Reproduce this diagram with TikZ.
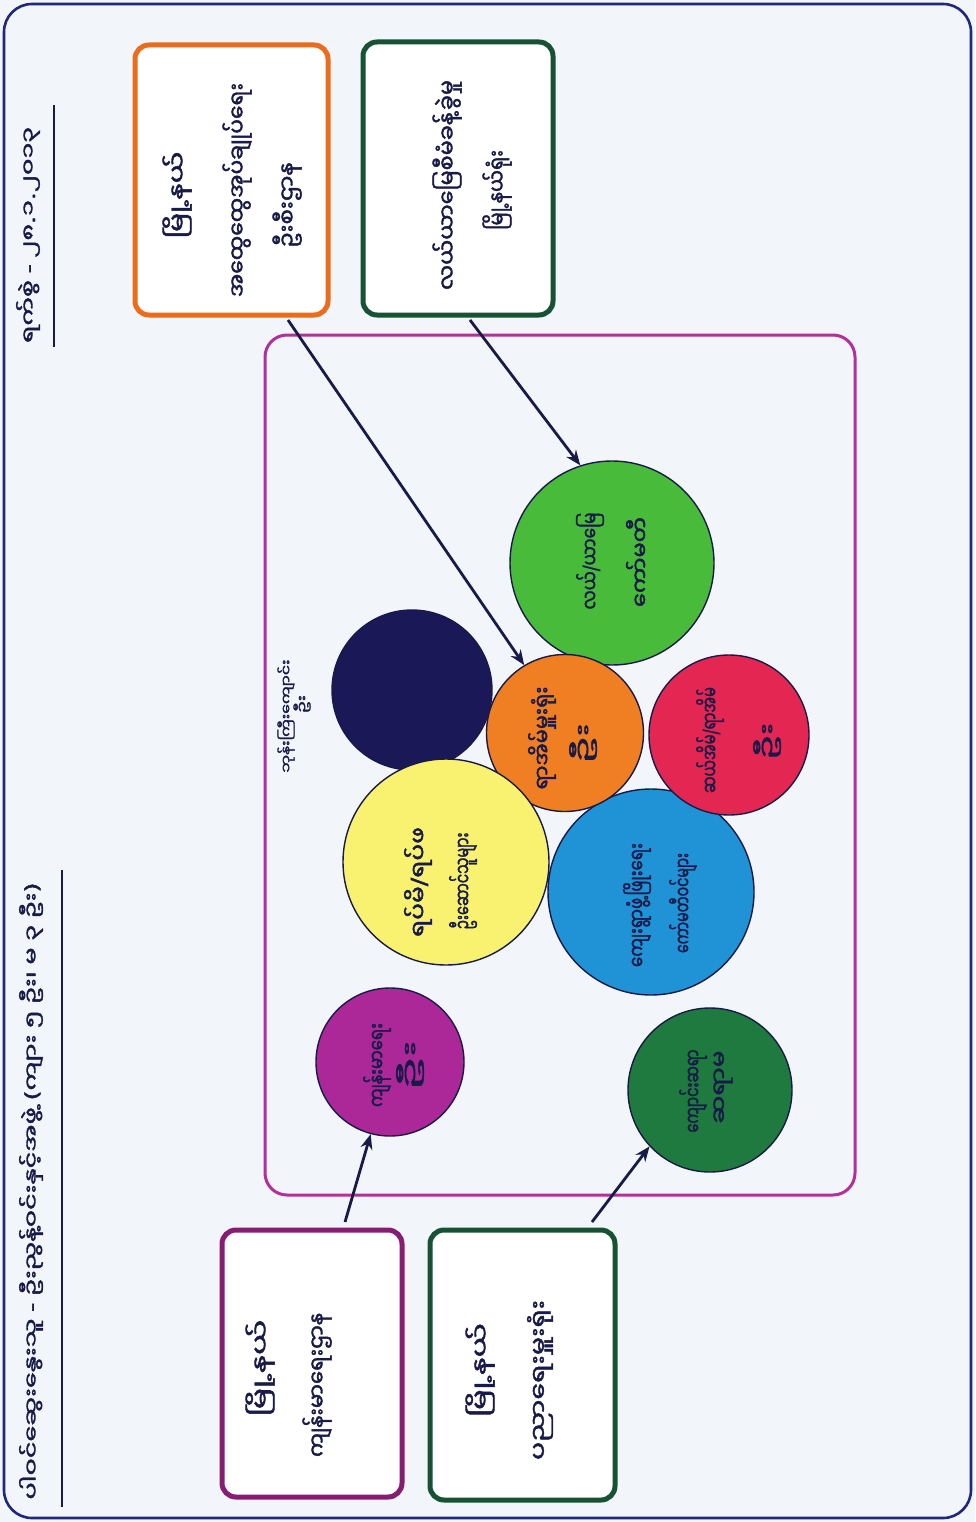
\documentclass[tikz,border=0pt]{standalone}
\usepackage{fontspec}
\usepackage{graphicx}
\usetikzlibrary{arrows.meta}
\newfontfamily\mm[Script=Myanmar,FakeBold=1.8]{Noto Sans Myanmar UI}
\newfontfamily\lat[FakeBold=1.8]{DejaVu Sans}
\newcommand\la[1]{{\lat #1}}
\newcommand\fitw[2]{\resizebox{#1}{\height}{#2}}
\definecolor{bgc}{RGB}{242,245,249}
\definecolor{ink}{RGB}{24,26,72}
\definecolor{frame}{RGB}{32,40,125}
\definecolor{mag}{RGB}{176,48,158}
\definecolor{obord}{RGB}{234,108,28}
\definecolor{gbord}{RGB}{24,82,52}
\definecolor{pbord}{RGB}{135,28,115}
\definecolor{cgreen}{RGB}{72,188,58}
\definecolor{cnavy}{RGB}{26,24,86}
\definecolor{corange}{RGB}{240,126,35}
\definecolor{cpink}{RGB}{228,38,82}
\definecolor{cyellow}{RGB}{248,242,112}
\definecolor{cblue}{RGB}{32,146,214}
\definecolor{cpurple}{RGB}{172,40,152}
\definecolor{cdgreen}{RGB}{30,122,62}
\tikzset{
  ball/.style={circle, draw=ink, line width=1.4pt, inner sep=0pt},
  card/.style={rectangle, rounded corners=14pt, fill=white, line width=5pt, inner sep=0pt},
  lbl/.style={rotate=90, inner sep=0pt, text=ink, font=\mm\fontsize{21}{24}\selectfont},
  boxlbl/.style={lbl, font=\mm\fontsize{22}{25}\selectfont},
  arr/.style={draw=ink, line width=2.8pt, -{Stealth[length=15pt,width=12pt]}},
}
\begin{document}
\begin{tikzpicture}[x=1pt,y=-1pt]
\useasboundingbox (0,0) rectangle (975,1522);
\fill[bgc] (0,0) rectangle (975,1522);
\draw[frame, line width=2.6pt, rounded corners=28pt] (4,4) rectangle (971,1518);

% header
\node[lbl, font=\mm\fontsize{18}{21}\selectfont] (hdr) at (31,1191)
  {\fitw{617pt}{ပါဝင်ဆွေးနွေးသူ \la{-} ဦးညွန့်ဝင်းနှင့်အဖွဲ့ \la{(}ကျား ၅ ဦး၊ မ ၃ ဦး\la{)}}};
\coordinate (hu1) at (62,1507);
\coordinate (hu2) at (62,870);
\draw[ink, line width=2pt] (hu1) -- (hu2);
\node[lbl, font=\mm\fontsize{18}{21}\selectfont] (date) at (28,235)
  {\fitw{216pt}{ရက်စွဲ \la{-} ၂၈\la{.}၁\la{.}၂၀၁၃}};
\coordinate (du1) at (54,347);
\coordinate (du2) at (54,105);
\draw[ink, line width=2pt] (du1) -- (du2);

% main area
\draw[mag, line width=3pt, rounded corners=22pt] (265,335) rectangle (855,1195);

% top boxes
\node[card, draw=obord, minimum width=193pt, minimum height=270pt] (obox) at (231.5,180) {};
\node[card, draw=gbord, minimum width=190pt, minimum height=273pt] (gbox) at (458,178.5) {};
% bottom boxes
\node[card, draw=pbord, minimum width=180pt, minimum height=267pt] (pbox) at (312,1363.5) {};
\node[card, draw=gbord, minimum width=185pt, minimum height=270pt] (dgbox) at (522.5,1365) {};

% box texts
\node[boxlbl] (ob1) at (177,195) {\fitw{87pt}{မြို့နယ်}};
\node[boxlbl] (ob2) at (237,190) {\fitw{214pt}{အထွေထွေအုပ်ချုပ်ရေး}};
\node[boxlbl] (ob3) at (287,205) {\fitw{85pt}{ဦးစီးဌာန}};
\node[boxlbl] (gb1) at (447,185) {\fitw{210pt}{လယ်ယာမြေစီမံခန့်ခွဲမှု}};
\node[boxlbl] (gb2) at (497,190) {\fitw{80pt}{မြို့နယ်ရုံး}};
\node[boxlbl] (pb1) at (260,1368) {\fitw{97pt}{မြို့နယ်}};
\node[boxlbl] (pb2) at (317,1385) {\fitw{144pt}{ကျန်းမာရေးဌာန}};
\node[boxlbl] (db1) at (480,1370) {\fitw{94pt}{မြို့နယ်}};
\node[boxlbl] (db2) at (540,1380) {\fitw{160pt}{ပညာရေးမှူးရုံး}};

% circles
\node[ball, fill=cgreen, minimum size=204pt] (gcirc) at (612,563) {};
\node[ball, fill=cnavy, minimum size=160pt] (ncirc) at (412,690) {};
\node[ball, fill=cblue, minimum size=206pt] (bcirc) at (651,892) {};
\node[ball, fill=cpink, minimum size=160pt] (pkcirc) at (729,735) {};
\node[ball, fill=corange, minimum size=157pt] (ocirc) at (565,733) {};
\node[ball, fill=cyellow, minimum size=206pt] (ycirc) at (446,862) {};
\node[ball, fill=cpurple, minimum size=148pt] (pcirc) at (390,1062) {};
\node[ball, fill=cdgreen, minimum size=164pt] (dgcirc) at (710,1090) {};

% circle texts
\node[lbl] (gt1) at (590,561) {\fitw{97pt}{လယ်\la{/}ယာမြေ}};
\node[lbl] (gt2) at (637,562) {\fitw{90pt}{ကော်မတီ}};
\node[lbl] (ot1) at (542,738) {\fitw{103pt}{ရာအိမ်မှူးရုံး}};
\node[lbl] (ot2) at (583,743) {\fitw{40pt}{ဦး}};
\node[lbl] (pt1) at (710,740) {\fitw{106pt}{ဆယ်အိမ်\la{/}ရာအိမ်}};
\node[lbl] (pt2) at (767,741) {\fitw{37pt}{ဦး}};
\node[lbl] (yt1) at (418,882) {\fitw{110pt}{ရပ်မိ\la{/}ရပ်ဖ}};
\node[lbl] (yt2) at (463,881) {\fitw{97pt}{ဦးဆောင်သူများ}};
\node[lbl] (bt1) at (637,905) {\fitw{124pt}{ကျေးရွာဖွံ့ဖြိုးရေး}};
\node[lbl] (bt2) at (683,903) {\fitw{100pt}{ကော်မတီဝင်များ}};
\node[lbl] (ct1) at (377,1065) {\fitw{84pt}{ကျန်းမာရေး}};
\node[lbl] (ct2) at (410,1065) {\fitw{50pt}{ဦး}};
\node[lbl] (dt1) at (693,1091) {\fitw{83pt}{ကျောင်းဆရာ}};
\node[lbl] (dt2) at (723,1087) {\fitw{73pt}{ဆရာမ}};
\node[lbl, font=\mm\fontsize{13}{15}\selectfont] (nt1) at (286,716) {\fitw{113pt}{ဘုန်းကြီးကျောင်း}};
\node[lbl, font=\mm\fontsize{13}{15}\selectfont] (nt2) at (302,704) {\fitw{18pt}{ဦး}};

% arrows
\coordinate (oas) at (288,320);
\coordinate (gas) at (470,320);
\coordinate (pas) at (345,1222);
\coordinate (das) at (592,1222);
\draw[arr] (oas) -- (ocirc.121);
\draw[arr] (gas) -- (gcirc.108);
\draw[arr] (pas) -- (pcirc.255);
\draw[arr] (das) -- (dgcirc.223);
\end{tikzpicture}
\end{document}
